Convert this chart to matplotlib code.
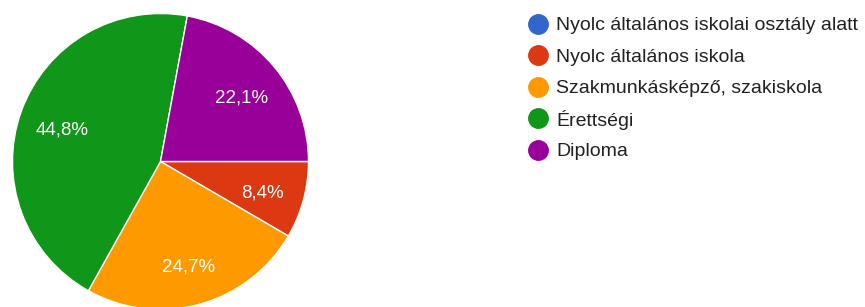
import matplotlib.pyplot as plt

# Adatok (Google Forms kördiagram)
kategoriak = ['Nyolc általános iskolai osztály alatt', 'Nyolc általános iskola',
              'Szakmunkásképző, szakiskola', 'Érettségi', 'Diploma']
szazalekok = [0.0, 8.4, 24.7, 44.8, 22.1]
szinek = ['#3366cc', '#dc3912', '#ff9900', '#109618', '#990099']

plt.rcParams['font.family'] = ['Liberation Sans', 'DejaVu Sans']

fig = plt.figure(figsize=(8.65, 3.07), dpi=100)
W, H = 865, 307

# kör: közép kb. (160.5, 161.5), sugár kb. 148 px
cx, cy, r = 160.5, 161.5, 148
ax = fig.add_axes([(cx - r) / W, (H - cy - r) / H, 2 * r / W, 2 * r / H])


def felirat(p):
    if p < 1:
        return ''
    return f'{p:.1f}%'.replace('.', ',')


wedges, texts, autotexts = ax.pie(
    szazalekok, colors=szinek, startangle=0, counterclock=False,
    autopct=felirat, pctdistance=0.71, radius=1,
    wedgeprops=dict(edgecolor='white', linewidth=1),
    textprops=dict(color='white', fontsize=13.5))
ax.set_xlim(-1, 1)
ax.set_ylim(-1, 1)
for w in wedges:
    w.set_clip_on(False)
# a feliratok kicsit lejjebb vannak az eredetin
for t in autotexts:
    x, y = t.get_position()
    t.set_position((x, y - 4 / r))

# Jelmagyarázat kézzel, egyenletes sorközzel
leg_x, leg_y, sor = 537.5, 23.5, 31.6
for i, (nev, szin) in enumerate(zip(kategoriak, szinek)):
    y = 1 - (leg_y + i * sor) / H
    fig.lines.append(plt.Line2D([leg_x / W], [y], marker='o', markersize=14,
                                markerfacecolor=szin, markeredgecolor=szin,
                                linestyle='none', transform=fig.transFigure))
    fig.text((leg_x + 19) / W, y, nev, fontsize=14, color='#212121',
             va='center_baseline', ha='left')

fig.savefig('out.png', dpi=100)
